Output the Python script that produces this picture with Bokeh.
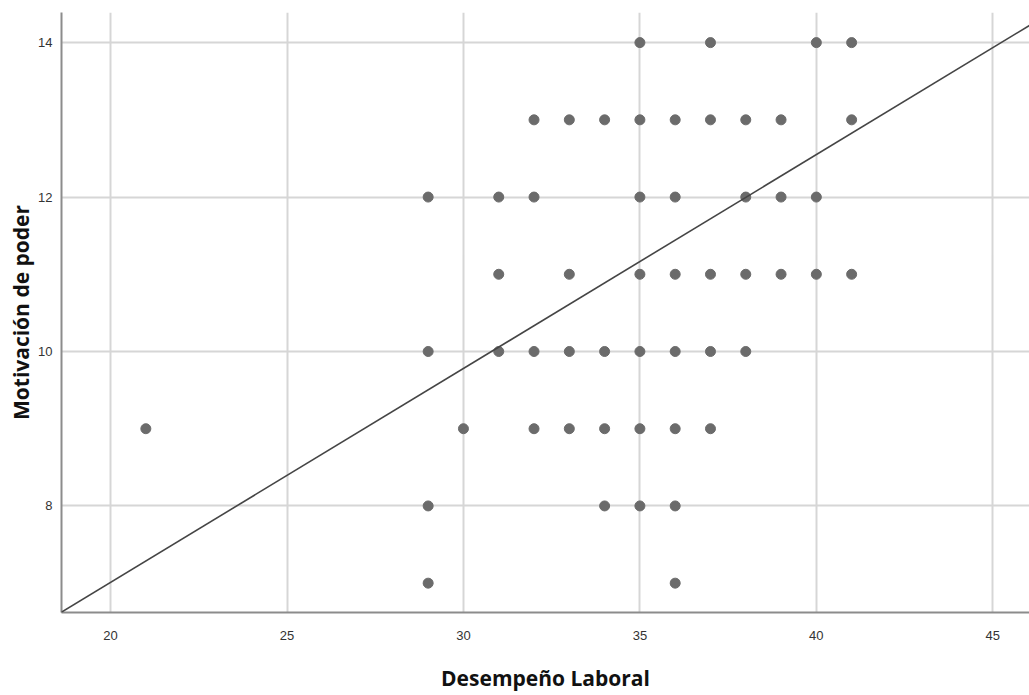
from bokeh.plotting import figure
from bokeh.models import Range1d, FixedTicker, Slope
from bokeh.embed import file_html
from bokeh.resources import INLINE

# Data (Desempeño Laboral vs Motivación de poder)
desempeno = [35, 37, 40, 41,
             32, 33, 34, 35, 36, 37, 38, 39, 41,
             29, 31, 32, 35, 36, 38, 39, 40,
             31, 33, 35, 36, 37, 38, 39, 40, 41,
             29, 31, 32, 33, 34, 35, 36, 37, 38,
             21, 30, 32, 33, 34, 35, 36, 37,
             29, 34, 35, 36,
             29, 36]
motivacion = [14, 14, 14, 14,
              13, 13, 13, 13, 13, 13, 13, 13, 13,
              12, 12, 12, 12, 12, 12, 12, 12,
              11, 11, 11, 11, 11, 11, 11, 11, 11,
              10, 10, 10, 10, 10, 10, 10, 10, 10,
              9, 9, 9, 9, 9, 9, 9, 9,
              8, 8, 8, 8,
              7, 7]
x_ticks = [20, 25, 30, 35, 40, 45]
y_ticks = [8, 10, 12, 14]
fit_intercept = 1.47
fit_slope = 0.277

p = figure(width=1029, height=695, output_backend="svg", toolbar_location=None,
           x_range=Range1d(18.61, 46.04), y_range=Range1d(6.62, 14.39),
           min_border_left=61, min_border_right=0, min_border_top=12, min_border_bottom=83)
p.outline_line_color = None
p.background_fill_color = "white"

for ax in (p.xaxis[0], p.yaxis[0]):
    ax.major_tick_line_color = None
    ax.minor_tick_line_color = None
    ax.axis_line_color = "#8c8c8c"
    ax.axis_line_width = 2
    ax.major_label_text_font = "Liberation Sans"
    ax.major_label_text_font_size = "13px"
    ax.major_label_text_color = "#333333"
    ax.axis_label_text_font = "Open Sans"
    ax.axis_label_text_font_style = "bold"
    ax.axis_label_text_font_size = "21px"
    ax.axis_label_text_color = "#111111"

p.xaxis.ticker = FixedTicker(ticks=x_ticks)
p.yaxis.ticker = FixedTicker(ticks=y_ticks)
p.xaxis.axis_label = "Desempeño Laboral"
p.yaxis.axis_label = "Motivación de poder"
p.xaxis.major_label_standoff = 12
p.xaxis.axis_label_standoff = 21
p.yaxis.major_label_standoff = 3
p.yaxis.axis_label_standoff = 0

p.grid.grid_line_color = "#d6d6d6"
p.grid.grid_line_width = 2

p.scatter(desempeno, motivacion, size=10, fill_color="#6b6b6b", line_color="#6b6b6b")
p.add_layout(Slope(gradient=fit_slope, y_intercept=fit_intercept,
                   line_color="#454545", line_width=1.6))

open("out.html", "w").write(file_html(p, INLINE))
